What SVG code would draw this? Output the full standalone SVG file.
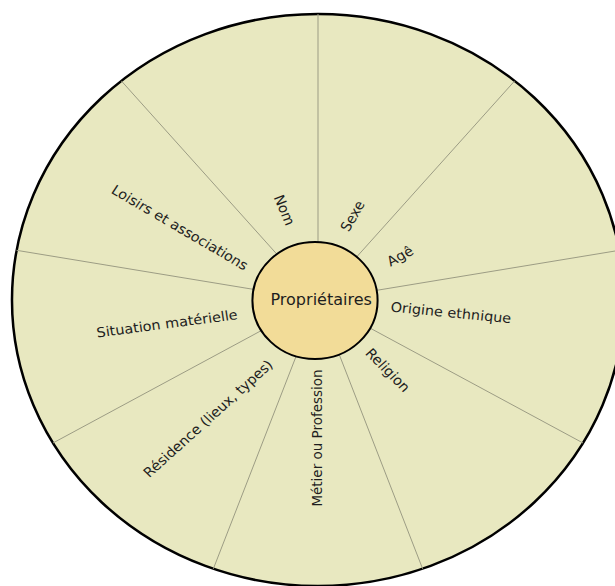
<svg xmlns="http://www.w3.org/2000/svg" width="615" height="586" viewBox="0 0 615 586">
  <style>
    .lbl { font-family: "DejaVu Sans", Verdana, sans-serif; font-size: 13.5px; fill: #1e1e1e; text-anchor: middle; dominant-baseline: central; }
    .ray { stroke: #9c9c84; stroke-width: 1; vector-effect: non-scaling-stroke; }
  </style>
  <rect width="615" height="586" fill="#ffffff"/>
  <g transform="translate(318,300) scale(1.07,1)">
    <g id="outer">
      <circle cx="0" cy="0" r="286" fill="#e8e8c0" stroke="#000000" stroke-width="2.5" vector-effect="non-scaling-stroke"/>
    </g>
    <g id="connectors">
      <line class="ray" x1="0" y1="0" x2="0" y2="-286"/>
      <line class="ray" x1="0" y1="0" x2="183.8" y2="-219.1"/>
      <line class="ray" x1="0" y1="0" x2="281.7" y2="-49.7"/>
      <line class="ray" x1="0" y1="0" x2="247.7" y2="143"/>
      <line class="ray" x1="0" y1="0" x2="97.8" y2="268.8"/>
      <line class="ray" x1="0" y1="0" x2="-97.8" y2="268.8"/>
      <line class="ray" x1="0" y1="0" x2="-247.7" y2="143"/>
      <line class="ray" x1="0" y1="0" x2="-281.7" y2="-49.7"/>
      <line class="ray" x1="0" y1="0" x2="-183.8" y2="-219.1"/>
    </g>
    <g id="center">
      <circle cx="-2.8" cy="0.5" r="58.5" fill="#f2dc98" stroke="#000000" stroke-width="2" vector-effect="non-scaling-stroke"/>
      <text x="3" y="5" style="font-family: 'DejaVu Sans', Verdana, sans-serif; font-size: 15px; fill: #1e1e1e; text-anchor: middle;">Propriétaires</text>
    </g>
    <g id="nom"><text class="lbl" transform="translate(-31.3,-90) rotate(68)">Nom</text></g>
    <g id="sexe"><text class="lbl" transform="translate(32.2,-84) rotate(-62)">Sexe</text></g>
    <g id="age"><text class="lbl" transform="translate(76.6,-44) rotate(-30)">Agê</text></g>
    <g id="origine"><text class="lbl" transform="translate(124.3,12.5) rotate(6)">Origine ethnique</text></g>
    <g id="religion"><text class="lbl" transform="translate(65.4,70) rotate(47)">Religion</text></g>
    <g id="metier"><text class="lbl" transform="translate(-0.9,138) rotate(-90)">Métier ou Profession</text></g>
    <g id="residence"><text class="lbl" transform="translate(-102.8,118.5) rotate(-44)">Résidence (lieux, types)</text></g>
    <g id="situation"><text class="lbl" transform="translate(-141.1,23.5) rotate(-8)">Situation matérielle</text></g>
    <g id="loisirs"><text class="lbl" transform="translate(-129,-72.5) rotate(32)">Loisirs et associations</text></g>
  </g>
</svg>
